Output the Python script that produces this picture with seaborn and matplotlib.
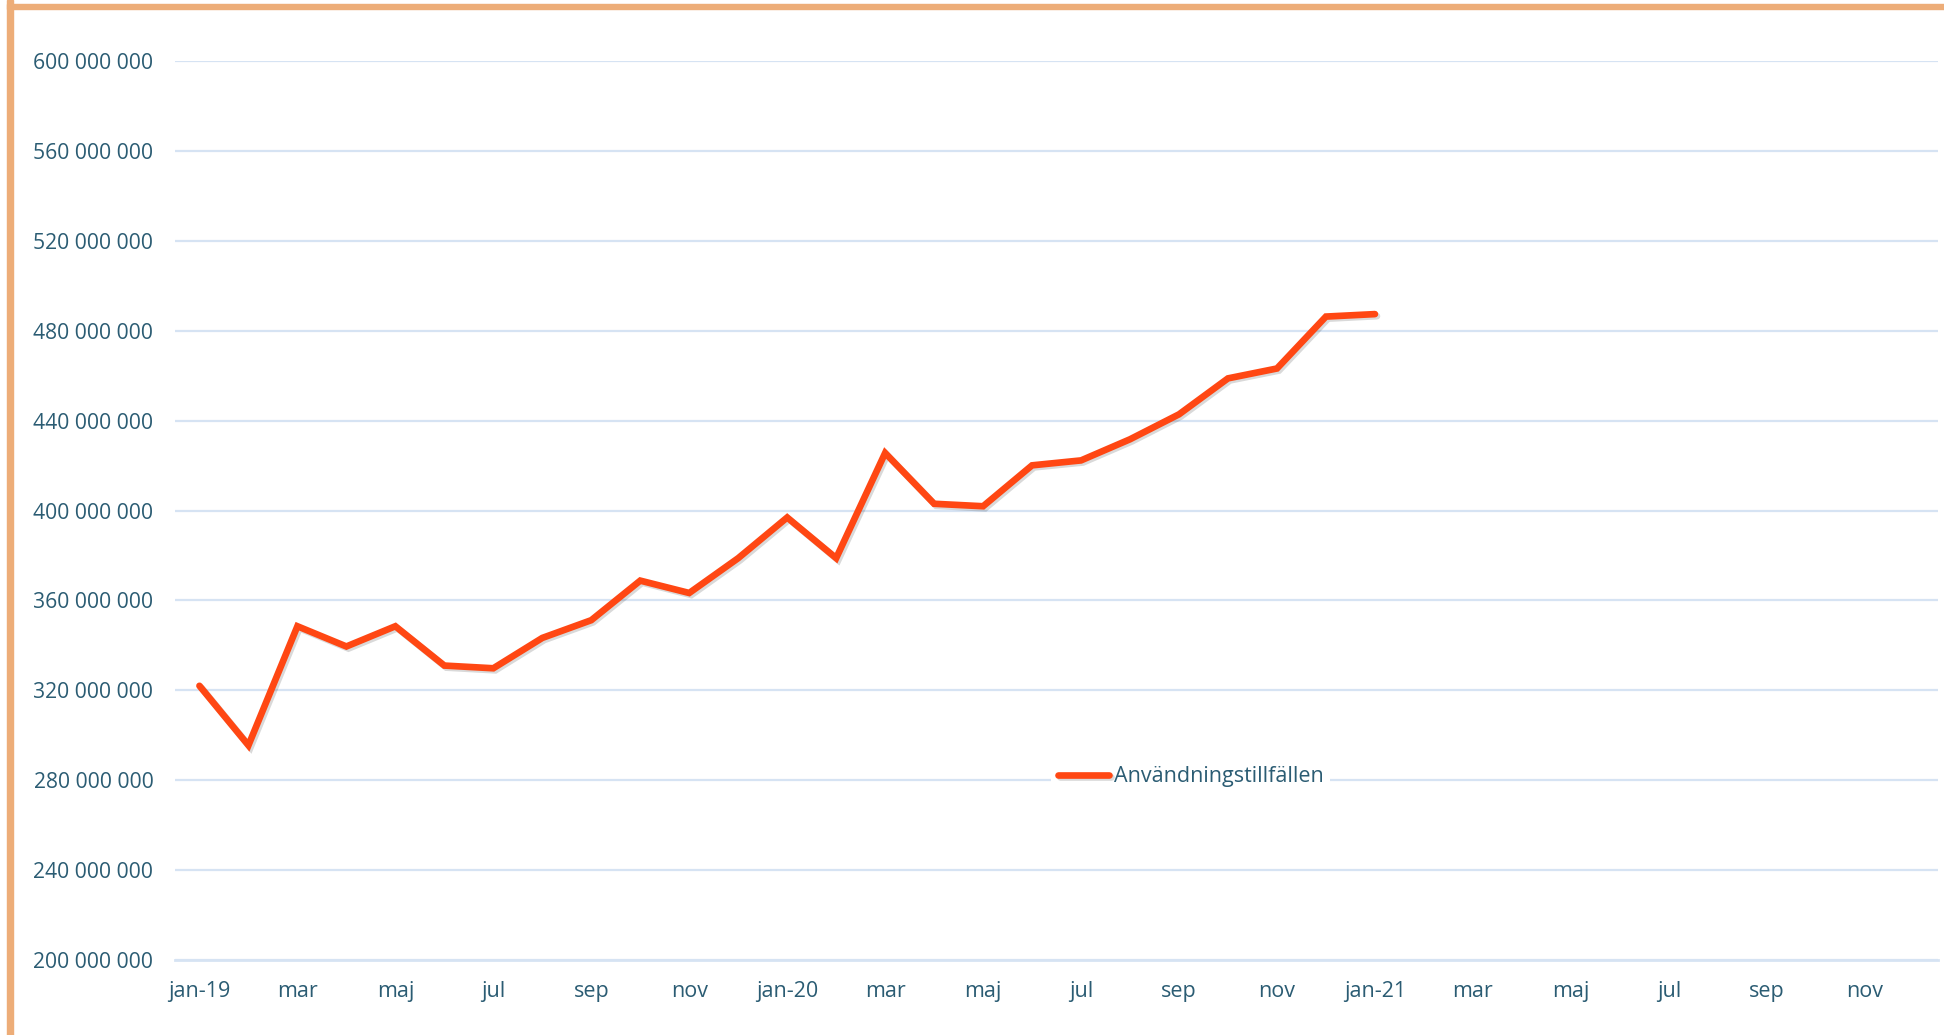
import numpy as np
import pandas as pd
import seaborn as sns
import matplotlib.pyplot as plt
from matplotlib import patheffects
from matplotlib.patches import Rectangle

# monthly usage, jan-19 .. jan-21
months = ['jan-19', 'feb', 'mar', 'apr', 'maj', 'jun', 'jul', 'aug', 'sep', 'okt', 'nov', 'dec',
          'jan-20', 'feb', 'mar', 'apr', 'maj', 'jun', 'jul', 'aug', 'sep', 'okt', 'nov', 'dec',
          'jan-21']
values = [322.0, 295.5, 348.5, 339.5, 348.5, 331.0, 329.8, 343.3, 351.2, 368.8, 363.3, 378.8,
          396.9, 378.8, 425.6, 403.0, 401.9, 420.1, 422.3, 431.7, 442.8, 458.8, 463.2, 486.3,
          487.4]
values = [v * 1e6 for v in values]

# the date axis runs jan-19 .. dec-21, label every second month
axis_labels = ['jan-19', 'mar', 'maj', 'jul', 'sep', 'nov',
               'jan-20', 'mar', 'maj', 'jul', 'sep', 'nov',
               'jan-21', 'mar', 'maj', 'jul', 'sep', 'nov']
n_axis_months = 36
yticks = [200e6, 240e6, 280e6, 320e6, 360e6, 400e6, 440e6, 480e6, 520e6, 560e6, 600e6]

series_name = 'Användningstillfällen'
line_color = '#FF4713'
text_color = '#2B5C73'
grid_color = '#D6E3F3'
border_color = '#EDAD78'

df = pd.DataFrame({'pos': np.arange(len(values)), 'value': values, 'serie': series_name})

sns.set_style('white')
plt.rcParams['font.family'] = ['Open Sans', 'DejaVu Sans']

fig = plt.figure(figsize=(19.44, 10.35), dpi=100)
ax = fig.add_axes([0.090, 0.0725, 0.907, 0.8685])

sns.lineplot(data=df, x='pos', y='value', hue='serie', palette=[line_color],
             linewidth=4.8, ax=ax, solid_capstyle='round', solid_joinstyle='miter')
for ln in ax.lines:
    ln.set_path_effects([patheffects.SimpleLineShadow(offset=(1.5, -1.5), alpha=0.15),
                         patheffects.Normal()])
    ln.set_zorder(3)

ax.set_xlim(-0.5, n_axis_months - 0.5)
ax.set_ylim(200e6, 600e6)
ax.set_yticks(yticks)
ax.set_yticklabels([f'{int(v):,}'.replace(',', ' ') for v in yticks])
ax.set_xticks(np.arange(0, n_axis_months, 2))
ax.set_xticklabels(axis_labels)
ax.set_xticks(np.arange(-0.5, n_axis_months, 1), minor=True)

ax.grid(axis='y', color=grid_color, linewidth=1.6)
ax.set_axisbelow(True)
for s in ['top', 'right', 'left']:
    ax.spines[s].set_visible(False)
ax.spines['bottom'].set_color(grid_color)
ax.spines['bottom'].set_linewidth(2)

ax.tick_params(axis='y', length=0, pad=15.5, labelsize=15.2, labelcolor=text_color)
ax.tick_params(axis='x', which='major', length=0, pad=15.5, labelsize=15.5, labelcolor=text_color)
ax.tick_params(axis='x', which='minor', length=8, width=1.6, color=grid_color, direction='out')
ax.set_xlabel('')
ax.set_ylabel('')

leg = ax.legend(loc='center', bbox_to_anchor=(0.576, 0.204), frameon=True, fontsize=15.5,
                handlelength=2.4, handletextpad=0.2, borderpad=0.3, borderaxespad=0)
leg.get_frame().set_facecolor('white')
leg.get_frame().set_edgecolor('none')
leg.get_frame().set_alpha(1)
for t in leg.get_texts():
    t.set_color(text_color)
for h in leg.get_lines():
    h.set_linewidth(4.8)
    h.set_solid_capstyle('round')

# orange frame edges (left and top)
fig.patches.append(Rectangle((7 / 1944, 0), 6 / 1944, 1, transform=fig.transFigure,
                             color=border_color, zorder=10))
fig.patches.append(Rectangle((7 / 1944, 1 - 9 / 1035), 1, 5 / 1035, transform=fig.transFigure,
                             color=border_color, zorder=10))

fig.savefig('out.png', dpi=100)
